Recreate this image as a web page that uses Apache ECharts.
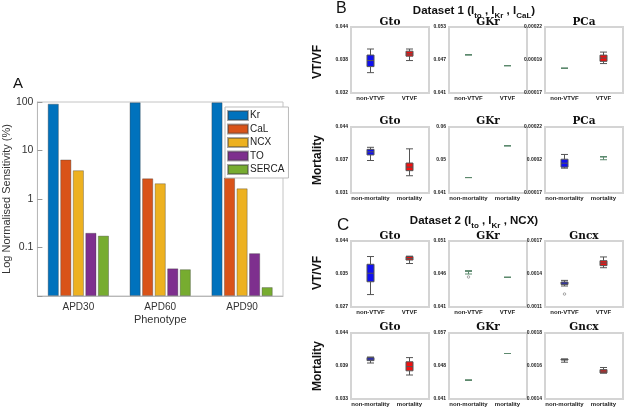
<!DOCTYPE html>
<html><head><meta charset="utf-8">
<script src="https://cdn.jsdelivr.net/npm/echarts@6/dist/echarts.min.js"></script>
<style>html,body{margin:0;padding:0;background:#fff}#c{width:625px;height:407px}</style>
</head><body><div id="c"></div>
<script>
// ---------- Panel A data ----------
const apdCategories = ['APD30', 'APD60', 'APD90'];
const seriesNames = ['Kr', 'CaL', 'NCX', 'TO', 'SERCA'];
const krVals = [92, 98, 98];
const calVals = [6.5, 2.65, 2.75];
const ncxVals = [3.9, 2.1, 1.65];
const toVals = [0.2, 0.037, 0.076];
const sercaVals = [0.175, 0.0355, 0.0152];
const logTicks = ['', '0.1', '1', '10', '100'];

// ---------- Panels B / C data: [min, Q1, median, Q3, max] ----------
const catsVT = ['non-VTVF', 'VTVF'];
const catsMort = ['non-mortality', 'mortality'];

const b1Gto = [[0.0357, 0.0368, 0.0379, 0.0389, 0.0400], [0.0379, 0.0387, 0.0391, 0.0396, 0.0400]];
const b1Gkr = [[0.04796, 0.04796, 0.04796, 0.04796, 0.04796], [0.04598, 0.04598, 0.04598, 0.04598, 0.04598]];
const b1Pca = [[0.0001887, 0.0001887, 0.0001887, 0.0001887, 0.0001887], [0.0001923, 0.000194, 0.0001965, 0.0001987, 0.000201]];
const b2Gto = [[0.0374, 0.0385, 0.0391, 0.0396, 0.0400], [0.0344, 0.0354, 0.0361, 0.0369, 0.0397]];
const b2Gkr = [[0.04545, 0.04545, 0.04545, 0.04545, 0.04545], [0.05462, 0.05462, 0.05462, 0.05462, 0.05462]];
const b2Pca = [[0.0001888, 0.0001896, 0.0001926, 0.0001956, 0.0001992], [0.0001952, 0.0001975, 0.0001975, 0.0001975, 0.0001975]];
const c1Gto = [[0.0302, 0.0335, 0.0357, 0.0380, 0.0400], [0.0382, 0.0391, 0.0395, 0.0400, 0.0401]];
const c1Gkr = [[0.0460, 0.04645, 0.04645, 0.04645, 0.04645], [0.04549, 0.04549, 0.04549, 0.04549, 0.04549]];
const c1Gncx = [[0.001291, 0.001305, 0.001318, 0.001327, 0.001342], [0.001457, 0.001476, 0.0015, 0.001521, 0.001555]];
const c2Gto = [[0.0390, 0.0394, 0.03965, 0.0399, 0.0400], [0.0370, 0.0377, 0.0384, 0.0392, 0.0399]];
const c2Gkr = [[0.04555, 0.04555, 0.04555, 0.04555, 0.04555], [0.05203, 0.05203, 0.05203, 0.05203, 0.05203]];
const c2Gncx = [[0.001623, 0.001636, 0.001639, 0.001642, 0.001642], [0.001557, 0.001558, 0.001569, 0.001578, 0.001591]];

const c1GkrOutliers = [[0, 0.04555]];
const c1GncxOutliers = [[0, 0.001218]];

// y ranges and tick labels (min, mid, max)
const b1GtoTicks = ['0.032', '0.038', '0.044'];
const b1GkrTicks = ['0.041', '0.047', '0.053'];
const b1PcaTicks = ['0.00017', '0.00019', '0.00022'];
const b2GtoTicks = ['0.031', '0.037', '0.044'];
const b2GkrTicks = ['0.041', '0.05', '0.06'];
const b2PcaTicks = ['0.00017', '0.0002', '0.00022'];
const c1GtoTicks = ['0.027', '0.035', '0.044'];
const c1GkrTicks = ['0.041', '0.046', '0.051'];
const c1GncxTicks = ['0.0011', '0.0014', '0.0017'];
const c2GtoTicks = ['0.033', '0.039', '0.044'];
const c2GkrTicks = ['0.041', '0.048', '0.057'];
const c2GncxTicks = ['0.0014', '0.0016', '0.0018'];

const b1GtoRange = [0.032, 0.044];
const b1GkrRange = [0.041, 0.053];
const b1PcaRange = [0.00017, 0.00022];
const b2GtoRange = [0.031, 0.044];
const b2GkrRange = [0.041, 0.060];
const b2PcaRange = [0.00017, 0.00022];
const c1GtoRange = [0.027, 0.044];
const c1GkrRange = [0.041, 0.051];
const c1GncxRange = [0.0011, 0.0017];
const c2GtoRange = [0.033, 0.044];
const c2GkrRange = [0.041, 0.057];
const c2GncxRange = [0.0014, 0.0018];

// ---------- layout ----------
const colLeft = [351, 449, 545];
const panelW = 78;
const rowTop = [27, 127, 241, 333];
const panelH = 66;
const titleY = [22, 121, 236, 327];

const panels = [
  {row: 0, col: 0, title: 'Gto', cats: catsVT, data: b1Gto, range: b1GtoRange, ticks: b1GtoTicks},
  {row: 0, col: 1, title: 'GKr', cats: catsVT, data: b1Gkr, range: b1GkrRange, ticks: b1GkrTicks, flat: [true, true]},
  {row: 0, col: 2, title: 'PCa', cats: catsVT, data: b1Pca, range: b1PcaRange, ticks: b1PcaTicks, flat: [true, false]},
  {row: 1, col: 0, title: 'Gto', cats: catsMort, data: b2Gto, range: b2GtoRange, ticks: b2GtoTicks},
  {row: 1, col: 1, title: 'GKr', cats: catsMort, data: b2Gkr, range: b2GkrRange, ticks: b2GkrTicks, flat: [true, true]},
  {row: 1, col: 2, title: 'PCa', cats: catsMort, data: b2Pca, range: b2PcaRange, ticks: b2PcaTicks, flat: [false, true]},
  {row: 2, col: 0, title: 'Gto', cats: catsVT, data: c1Gto, range: c1GtoRange, ticks: c1GtoTicks},
  {row: 2, col: 1, title: 'GKr', cats: catsVT, data: c1Gkr, range: c1GkrRange, ticks: c1GkrTicks, flat: [true, true], outliers: c1GkrOutliers},
  {row: 2, col: 2, title: 'Gncx', cats: catsVT, data: c1Gncx, range: c1GncxRange, ticks: c1GncxTicks, outliers: c1GncxOutliers},
  {row: 3, col: 0, title: 'Gto', cats: catsMort, data: c2Gto, range: c2GtoRange, ticks: c2GtoTicks},
  {row: 3, col: 1, title: 'GKr', cats: catsMort, data: c2Gkr, range: c2GkrRange, ticks: c2GkrTicks, flat: [true, true]},
  {row: 3, col: 2, title: 'Gncx', cats: catsMort, data: c2Gncx, range: c2GncxRange, ticks: c2GncxTicks}
];

const boxColors = ['#1010f0', '#f01010'];
const flatColor = '#5d8a6e';

const grids = [], xAxes = [], yAxes = [], series = [], graphics = [];

// Panel A
grids.push({left: 33, top: 102, width: 250, height: 194, show: true, borderColor: '#c4c4c4', borderWidth: 1, backgroundColor: '#fff'});
xAxes.push({type: 'category', gridIndex: 0, data: apdCategories,
  axisLine: {lineStyle: {color: '#b8b8b8'}},
  axisTick: {inside: true, alignWithLabel: true, lineStyle: {color: '#999'}},
  axisLabel: {fontSize: 10, color: '#333', margin: 6, fontFamily: 'Liberation Sans'},
  name: 'Phenotype', nameLocation: 'middle', nameGap: 18,
  nameTextStyle: {fontSize: 11, color: '#333', fontFamily: 'Liberation Sans'}});
yAxes.push({type: 'log', gridIndex: 0, min: 0.01, max: 100, logBase: 10, startValue: 0.01,
  axisLine: {show: true, lineStyle: {color: '#b8b8b8'}},
  axisTick: {show: true, inside: true, lineStyle: {color: '#999'}},
  splitLine: {show: false},
  axisLabel: {fontSize: 10.5, color: '#333', margin: 4, fontFamily: 'Liberation Sans',
    formatter: function (v) { const i = Math.round(Math.log10(v)) + 2; return logTicks[i] || ''; }},
  name: 'Log Normalised Sensitivity (%)', nameLocation: 'middle', nameGap: 22,
  nameTextStyle: {fontSize: 11, color: '#333', fontFamily: 'Liberation Sans'}});
const barSets = [krVals, calVals, ncxVals, toVals, sercaVals];
const barColors = ['#0072BD', '#D95319', '#EDB120', '#7E2F8E', '#77AC30'];
barSets.forEach(function (vals, i) {
  series.push({type: 'bar', name: seriesNames[i], xAxisIndex: 0, yAxisIndex: 0, data: vals,
    barWidth: 11, barGap: '14%', itemStyle: {color: barColors[i], borderColor: 'rgba(60,60,60,0.45)', borderWidth: 0.8}});
});

// Panels B and C
panels.forEach(function (p, k) {
  const gi = k + 1;
  grids.push({left: colLeft[p.col], top: rowTop[p.row], width: panelW, height: panelH,
    show: true, borderColor: '#d4d4d4', borderWidth: 2, backgroundColor: '#fff'});
  xAxes.push({type: 'category', gridIndex: gi, data: p.cats,
    axisLine: {show: false}, axisTick: {show: false},
    axisLabel: {fontSize: 6, fontWeight: 'bold', color: '#222', margin: 2, interval: 0, fontFamily: 'Liberation Sans'}});
  const mid = (p.range[0] + p.range[1]) / 2;
  const tv = [p.range[0], mid, p.range[1]];
  yAxes.push({type: 'value', gridIndex: gi, min: p.range[0], max: p.range[1],
    axisLine: {show: false}, axisTick: {show: false}, splitLine: {show: false},
    axisLabel: {fontSize: 5, fontWeight: 'bold', color: '#222', margin: 3, fontFamily: 'Liberation Sans',
      customValues: tv,
      formatter: function (v) {
        let best = 0, bd = Infinity;
        tv.forEach(function (t, i) { const d = Math.abs(t - v); if (d < bd) { bd = d; best = i; } });
        return p.ticks[best];
      }}});
  series.push({type: 'boxplot', xAxisIndex: gi, yAxisIndex: gi, boxWidth: [7, 7],
    data: p.data.map(function (d, i) {
      const flat = p.flat && p.flat[i];
      return {value: d, itemStyle: {color: boxColors[i], borderColor: flat ? flatColor : '#555', borderWidth: 1}};
    })});
  if (p.outliers) {
    series.push({type: 'scatter', xAxisIndex: gi, yAxisIndex: gi, data: p.outliers,
      symbol: 'circle', symbolSize: 2.5, itemStyle: {color: '#fff', borderColor: '#777', borderWidth: 0.8}});
  }
  graphics.push({type: 'text', x: colLeft[p.col] + panelW / 2, y: titleY[p.row],
    style: {text: p.title, fontFamily: 'DejaVu Serif', fontWeight: 'bold', fontSize: 10.5, fill: '#111',
      textAlign: 'center', textVerticalAlign: 'middle'}});
});

// Labels
graphics.push({type: 'text', x: 13, y: 84, style: {text: 'A', fontSize: 15, fontFamily: 'Liberation Sans', fill: '#111', textVerticalAlign: 'middle'}});
graphics.push({type: 'text', x: 336, y: 9, style: {text: 'B', fontSize: 16, fontFamily: 'Liberation Sans', fill: '#111', textVerticalAlign: 'middle'}});
graphics.push({type: 'text', x: 337, y: 225, style: {text: 'C', fontSize: 17, fontFamily: 'Liberation Sans', fill: '#111', textVerticalAlign: 'middle'}});

const richT = {
  m: {fontSize: 11.5, fontWeight: 'bold', fontFamily: 'Liberation Sans', fill: '#111', lineHeight: 17},
  s: {fontSize: 8, fontWeight: 'bold', fontFamily: 'Liberation Sans', fill: '#111', lineHeight: 8, verticalAlign: 'bottom'}
};
graphics.push({type: 'text', x: 474, y: 11, style: {text: '{m|Dataset 1 (I}{s|to}{m| , I}{s|Kr}{m| , I}{s|CaL}{m|)}', rich: richT, textAlign: 'center', textVerticalAlign: 'middle'}});
graphics.push({type: 'text', x: 474, y: 221, style: {text: '{m|Dataset 2 (I}{s|to}{m| , I}{s|Kr}{m| , NCX)}', rich: richT, textAlign: 'center', textVerticalAlign: 'middle'}});

const rowLabels = [['VT/VF', 62], ['Mortality', 160], ['VT/VF', 273], ['Mortality', 366]];
rowLabels.forEach(function (r) {
  graphics.push({type: 'text', x: 318, y: r[1], rotation: Math.PI / 2,
    style: {text: r[0], fontSize: 12, fontWeight: 'bold', fontFamily: 'Liberation Sans', fill: '#111', textAlign: 'center', textVerticalAlign: 'middle'}});
});

const chart = echarts.init(document.getElementById('c'), null, {renderer: 'canvas'});
chart.setOption({
  animation: false,
  backgroundColor: '#fff',
  grid: grids, xAxis: xAxes, yAxis: yAxes, series: series,
  legend: {data: seriesNames, orient: 'vertical', left: 225, top: 107, itemWidth: 20, itemHeight: 9, itemGap: 2.5,
    icon: 'rect', backgroundColor: '#fff', borderColor: '#bbb', borderWidth: 1, padding: [3, 4, 3, 2],
    textStyle: {fontSize: 10, color: '#222', fontFamily: 'Liberation Sans', padding: [0, 0, 0, -3]}},
  graphic: graphics
});
</script></body></html>
